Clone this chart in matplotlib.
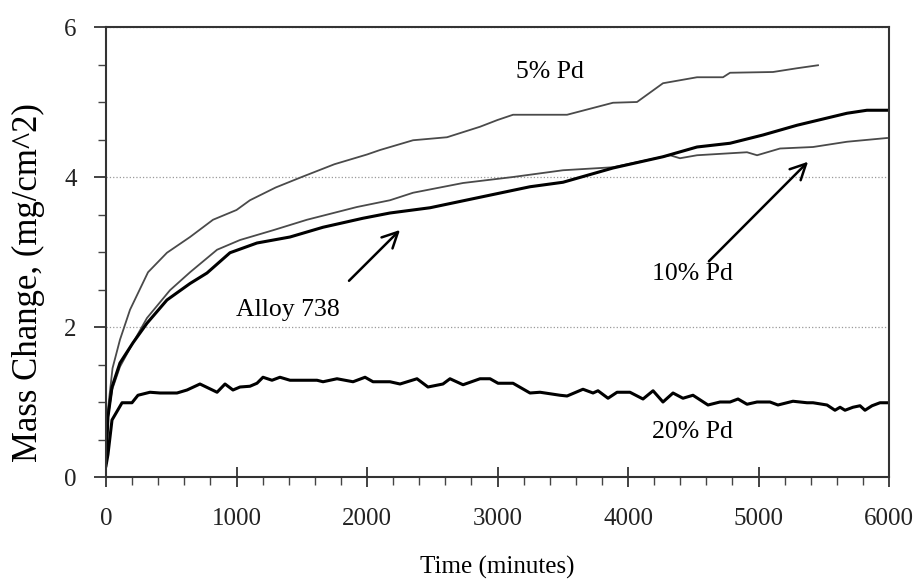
import matplotlib
matplotlib.use("Agg")
import matplotlib.pyplot as plt
from matplotlib.ticker import MultipleLocator

plt.rcParams['font.family'] = ['Liberation Serif', 'DejaVu Serif']

# ---- data ----
pd5_t = [0, 15, 50, 107, 184, 322, 467, 644, 820, 1000, 1103, 1300, 1500, 1750, 2000, 2100, 2353, 2613,
         2866, 3000, 3119, 3533, 3885, 4069, 4268, 4529, 4728, 4782, 5111, 5295, 5456]
pd5_m = [0.2, 0.9, 1.45, 1.83, 2.23, 2.73, 2.99, 3.2, 3.43, 3.56, 3.69, 3.86, 4.0, 4.17, 4.3, 4.36, 4.49, 4.53,
         4.67, 4.76, 4.83, 4.83, 4.99, 5.0, 5.25, 5.33, 5.33, 5.39, 5.4, 5.45, 5.49]

pd10_t = [0, 15, 46, 107, 207, 314, 490, 644, 851, 1027, 1280, 1540, 1923, 2176, 2353, 2736, 3119, 3502,
          3885, 4322, 4398, 4529, 4912, 4989, 5165, 5418, 5678, 5985]
pd10_m = [0.2, 0.8, 1.16, 1.47, 1.79, 2.12, 2.49, 2.73, 3.03, 3.16, 3.29, 3.43, 3.6, 3.69, 3.79, 3.92, 4.0, 4.09,
          4.13, 4.29, 4.25, 4.29, 4.33, 4.29, 4.38, 4.4, 4.47, 4.52]

alloy_t = [0, 15, 46, 107, 207, 314, 467, 644, 774, 950, 1157, 1410, 1663, 1969, 2176, 2483, 2866, 3249,
           3502, 3885, 4268, 4529, 4782, 5034, 5295, 5678, 5831, 5985]
alloy_m = [0.2, 0.8, 1.2, 1.52, 1.79, 2.05, 2.36, 2.58, 2.72, 2.99, 3.12, 3.2, 3.33, 3.45, 3.52, 3.59, 3.73, 3.87,
           3.93, 4.12, 4.27, 4.4, 4.45, 4.56, 4.69, 4.85, 4.89, 4.89]

pd20_t = [0, 15, 46, 123, 199, 245, 337, 414, 544, 621, 720, 851, 912, 973, 1027, 1103, 1157, 1203, 1272,
          1333, 1410, 1617, 1663, 1770, 1893, 1985, 2046, 2176, 2253, 2383, 2467, 2582, 2636, 2736, 2866,
          2943, 3004, 3119, 3249, 3326, 3479, 3533, 3655, 3732, 3770, 3847, 3916, 4015, 4115, 4192, 4268,
          4345, 4421, 4498, 4613, 4705, 4782, 4843, 4912, 4989, 5088, 5149, 5264, 5372, 5418, 5525, 5586,
          5625, 5663, 5724, 5778, 5816, 5870, 5931, 5985]
pd20_m = [0.15, 0.3, 0.76, 0.99, 0.99, 1.09, 1.13, 1.12, 1.12, 1.16, 1.24, 1.13, 1.24, 1.16, 1.2, 1.21, 1.25,
          1.33, 1.29, 1.33, 1.29, 1.29, 1.27, 1.31, 1.27, 1.33, 1.27, 1.27, 1.24, 1.31, 1.2, 1.24, 1.31, 1.23,
          1.31, 1.31, 1.25, 1.25, 1.12, 1.13, 1.09, 1.08, 1.17, 1.12, 1.15, 1.05, 1.13, 1.13, 1.04, 1.15, 1.0,
          1.12, 1.05, 1.09, 0.96, 1.0, 1.0, 1.04, 0.97, 1.0, 1.0, 0.96, 1.01, 0.99, 0.99, 0.96, 0.89, 0.93,
          0.89, 0.93, 0.95, 0.89, 0.95, 0.99, 0.99]

x_ticks = [0, 1000, 2000, 3000, 4000, 5000, 6000]
y_ticks = [0, 2, 4, 6]

labels = {"5% Pd": (3402, 5.4), "10% Pd": (4490, 2.7), "20% Pd": (4490, 0.6), "Alloy 738": (1395, 2.23)}
arrows = [((1847, 2.59), (2268, 3.32)), ((4605, 2.85), (5395, 4.23))]

# ---- figure ----
fig = plt.figure(figsize=(9.19, 5.82), dpi=100)
ax = fig.add_axes([106 / 919, 1 - 477 / 582, (889 - 106) / 919, (477 - 27) / 582])

thin = '#4a4a4a'
ax.plot(pd5_t, pd5_m, color=thin, lw=1.3)
ax.plot(pd10_t, pd10_m, color=thin, lw=1.3)
ax.plot(alloy_t, alloy_m, color='black', lw=2.2)
ax.plot(pd20_t, pd20_m, color='black', lw=2.2)

ax.set_xlim(0, 6000)
ax.set_ylim(0, 6)
ax.set_xticks(x_ticks)
ax.set_yticks(y_ticks)
ax.xaxis.set_minor_locator(MultipleLocator(200))
ax.yaxis.set_minor_locator(MultipleLocator(0.5))

ax.grid(axis='y', which='major', linestyle=':', color='#999999', lw=0.9)

for s in ax.spines.values():
    s.set_color('#333333')
    s.set_linewidth(1.5)

ax.tick_params(axis='x', which='major', direction='inout', length=14, width=1.2, labelsize=18, pad=15, colors='#222222')
ax.tick_params(axis='x', which='minor', direction='out', length=6, width=1.0, colors='#444444')
ax.tick_params(axis='y', which='major', direction='out', length=9, width=1.2, labelsize=18, pad=12, colors='#222222')
ax.tick_params(axis='y', which='minor', direction='out', length=6, width=1.0, colors='#444444')

ax.set_xlabel('Time (minutes)', fontsize=18, labelpad=19)
ax.set_ylabel('Mass Change, (mg/cm^2)', fontsize=25)
ax.yaxis.set_label_coords(-0.078, 0.433)

for txt, (x, y) in labels.items():
    ax.text(x, y, txt, fontsize=18.5, ha='center', va='center')

for (x0, y0), (x1, y1) in arrows:
    ax.annotate('', xy=(x1, y1), xytext=(x0, y0),
                arrowprops=dict(arrowstyle='->', color='black', lw=1.8, mutation_scale=28))

fig.savefig('out.png', dpi=100)
